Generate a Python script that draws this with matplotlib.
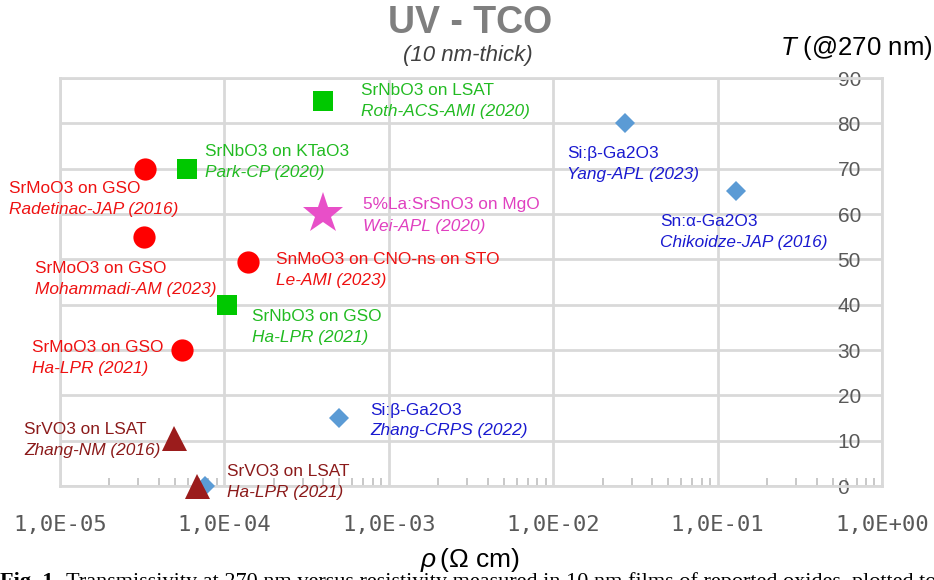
import matplotlib.pyplot as plt
from matplotlib.ticker import LogLocator, NullFormatter

plt.rcParams["mathtext.fontset"] = "custom"
plt.rcParams["mathtext.it"] = "Liberation Sans:italic"
plt.rcParams["mathtext.rm"] = "Liberation Sans"

# resistivity (Ohm cm) and transmission T (%) at 270 nm
srmoo3_rho = [3.3e-5, 3.25e-5, 1.4e-4, 5.5e-5]
srmoo3_T = [70, 55, 49.5, 30]
srmoo3_names = ["SrMoO3 on GSO", "SrMoO3 on GSO", "SnMoO3 on CNO-ns on STO", "SrMoO3 on GSO"]
srmoo3_refs = ["Radetinac-JAP (2016)", "Mohammadi-AM (2023)", "Le-AMI (2023)", "Ha-LPR (2021)"]

srnbo3_rho = [5.9e-5, 4.0e-4, 1.03e-4]
srnbo3_T = [70, 85, 40]
srnbo3_names = ["SrNbO3 on KTaO3", "SrNbO3 on LSAT", "SrNbO3 on GSO"]
srnbo3_refs = ["Park-CP (2020)", "Roth-ACS-AMI (2020)", "Ha-LPR (2021)"]

srsno3_rho = [4.0e-4]
srsno3_T = [60]
srsno3_names = ["5%La:SrSnO3 on MgO"]
srsno3_refs = ["Wei-APL (2020)"]

ga2o3_rho = [0.0275, 0.13, 5.0e-4, 7.6e-5]
ga2o3_T = [80, 65, 15, 0]
ga2o3_names = ["Si:\u03b2-Ga2O3", "Sn:\u03b1-Ga2O3", "Si:\u03b2-Ga2O3", None]
ga2o3_refs = ["Yang-APL (2023)", "Chikoidze-JAP (2016)", "Zhang-CRPS (2022)", None]

srvo3_rho = [4.96e-5, 6.8e-5]
srvo3_T = [10.5, 0]
srvo3_names = ["SrVO3 on LSAT", "SrVO3 on LSAT"]
srvo3_refs = ["Zhang-NM (2016)", "Ha-LPR (2021)"]

xticks = [1e-5, 1e-4, 1e-3, 1e-2, 1e-1, 1e0]
xtick_labels = ["1,0E-05", "1,0E-04", "1,0E-03", "1,0E-02", "1,0E-01", "1,0E+00"]
yticks = [0, 10, 20, 30, 40, 50, 60, 70, 80, 90]

# label offsets from each marker, in pixels (dx, dy of first line centre, y up)
srmoo3_off = [(-136, -20), (-109, -32), (28, 2), (-150, 2)]
srnbo3_off = [(18, 17), (38, 10), (25, -12)]
srsno3_off = [(40, 9)]
ga2o3_off = [(-58, -30), (-76, -30), (31, 8), None]
srvo3_off = [(-150, 9), (30, 14)]

fig = plt.figure(figsize=(9.34, 5.8), dpi=100)
ax = fig.add_axes([60 / 934, (580 - 486) / 580, (882 - 60) / 934, (486 - 78) / 580])
ax.set_xscale("log")
ax.set_xlim(1e-5, 1)
ax.set_ylim(0, 90)

grid_c = "#d9d9d9"
ax.grid(True, which="major", color=grid_c, linewidth=2, zorder=0)
for s in ax.spines.values():
    s.set_color(grid_c)
    s.set_linewidth(2)

ax.set_xticks(xticks)
ax.set_xticklabels(xtick_labels, family="DejaVu Sans Mono", fontsize=16, color="#595959")
ax.xaxis.set_minor_locator(LogLocator(base=10, subs=range(2, 10)))
ax.xaxis.set_minor_formatter(NullFormatter())
ax.tick_params(axis="x", which="major", length=0, pad=21)
ax.tick_params(axis="x", which="minor", direction="in", length=6, width=1.2, color="#bfbfbf")

ax.set_yticks(yticks)
ax.yaxis.tick_right()
ax.tick_params(axis="y", which="both", length=0, direction="in", pad=-32,
               labelsize=15, labelcolor="#595959")
for lab in ax.get_yticklabels():
    lab.set_family("Liberation Sans")

groups = [
    (srmoo3_rho, srmoo3_T, srmoo3_names, srmoo3_refs, srmoo3_off, "o", "#ff0000", 16, "#ee1111"),
    (srnbo3_rho, srnbo3_T, srnbo3_names, srnbo3_refs, srnbo3_off, "s", "#00c800", 14, "#22bb22"),
    (srsno3_rho, srsno3_T, srsno3_names, srsno3_refs, srsno3_off, "*", "#e84fc8", 31, "#e040c0"),
    (ga2o3_rho, ga2o3_T, ga2o3_names, ga2o3_refs, ga2o3_off, "D", "#5b9bd5", 10, "#1a1ad0"),
    (srvo3_rho, srvo3_T, srvo3_names, srvo3_refs, srvo3_off, "^", "#9b1c1c", 18, "#8b1a1a"),
]

for rho, T, names, refs, offs, mk, mc, ms, tc in groups:
    ax.plot(rho, T, linestyle="none", marker=mk, color=mc, markersize=ms,
            markeredgewidth=0, clip_on=False, zorder=3)
    for x, y, nm, rf, off in zip(rho, T, names, refs, offs):
        if nm is None:
            continue
        ax.annotate(nm, (x, y), xytext=(off[0], off[1]), textcoords="offset pixels",
                    fontsize=12.4, color=tc, ha="left", va="center",
                    family="Liberation Sans", annotation_clip=False, zorder=4)
        ax.annotate(rf, (x, y), xytext=(off[0], off[1] - 21), textcoords="offset pixels",
                    fontsize=12.4, color=tc, ha="left", va="center", style="italic",
                    family="Liberation Sans", annotation_clip=False, zorder=4)

fig.text(470 / 934, 1 - 23 / 580, "UV - TCO", ha="center", va="center", fontsize=27,
         weight="bold", color="#7f7f7f", family="Liberation Sans")
fig.text(468 / 934, 1 - 56 / 580, "(10 nm-thick)", ha="center", va="center", fontsize=16,
         style="italic", color="#404040", family="Liberation Sans")
fig.text(932 / 934, 1 - 48 / 580, r"$T$ (@270 nm)", ha="right", va="center", fontsize=18.5,
         color="black", family="Liberation Sans")
fig.text(470 / 934, 1 - 560 / 580, "$\\rho\\,$(\u03a9 cm)", ha="center", va="center", fontsize=19,
         color="black", family="Liberation Sans")
fig.text(0, -12 / 580, "Fig. 1.", ha="left", va="bottom", fontsize=16, weight="bold",
         color="black", family="Liberation Serif")
fig.text(66 / 934, -12 / 580,
         "Transmissivity at 270 nm versus resistivity measured in 10 nm films of reported oxides, plotted together",
         ha="left", va="bottom", fontsize=16, color="black", family="Liberation Serif")

fig.savefig("out.png", dpi=100)
